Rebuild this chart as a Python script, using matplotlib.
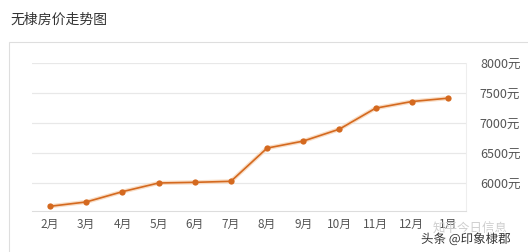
import matplotlib
matplotlib.use("Agg")
import matplotlib.pyplot as plt
from matplotlib.patches import Rectangle
import matplotlib.patheffects as pe

plt.rcParams['font.family'] = ['Noto Sans CJK SC', 'DejaVu Sans']

months = ["2月", "3月", "4月", "5月", "6月", "7月", "8月", "9月", "10月", "11月", "12月", "1月"]
prices = [5611, 5683, 5855, 6000, 6011, 6028, 6583, 6700, 6900, 7250, 7361, 7417]
yticks = [6000, 6500, 7000, 7500, 8000]
ytick_labels = ["6000元", "6500元", "7000元", "7500元", "8000元"]

W, H = 528, 253
fig = plt.figure(figsize=(W / 100, H / 100), dpi=100)
fig.patch.set_facecolor("white")

# outer frame
fig.patches.append(Rectangle((9 / W, -0.1), 1.2, 1 - 43 / H + 0.1, transform=fig.transFigure,
                             facecolor="none", edgecolor="#dedede", linewidth=0.8))
fig.text(10 / W, 1 - 20 / H, "无棣房价走势图", fontsize=10, color="#333333", va="center", ha="left")

ax = fig.add_axes([32 / W, 1 - 212 / H, (466 - 32) / W, (212 - 64.3) / H])
x = list(range(len(months)))
ax.plot(x, prices, color="#f8dcc4", linewidth=3, zorder=2)
ax.plot(x, prices, color="#d4691f", linewidth=1.2, marker="o", markersize=4.5,
        markeredgewidth=0, zorder=3)
ax.set_xlim(-0.5, len(months) - 0.5)
ax.set_ylim(5532, 8000)
ax.set_xticks(x)
ax.set_xticklabels(months, fontsize=8.5, color="#555555")
ax.yaxis.tick_right()
ax.set_yticks(yticks)
ax.set_yticklabels(ytick_labels, fontsize=9, color="#555555")
ax.tick_params(axis="both", length=0)
ax.tick_params(axis="y", pad=10)
ax.tick_params(axis="x", pad=4)
ax.grid(axis="y", color="#e8e8e8", linewidth=0.9)
for s in ["left", "top"]:
    ax.spines[s].set_visible(False)
ax.spines["bottom"].set_color("#dddddd")
ax.spines["right"].set_color("#eeeeee")
ax.set_axisbelow(True)

fig.text(433 / W, 1 - 229 / H, "知平今日信息", fontsize=9, color="#cfcfcf", va="center", ha="left")
fig.text(421 / W, 1 - 240 / H, "头条 @印象棣郡", fontsize=9, color="#333333", va="center", ha="left",
         path_effects=[pe.withStroke(linewidth=2, foreground="white")])

fig.savefig("out.png", dpi=100)
